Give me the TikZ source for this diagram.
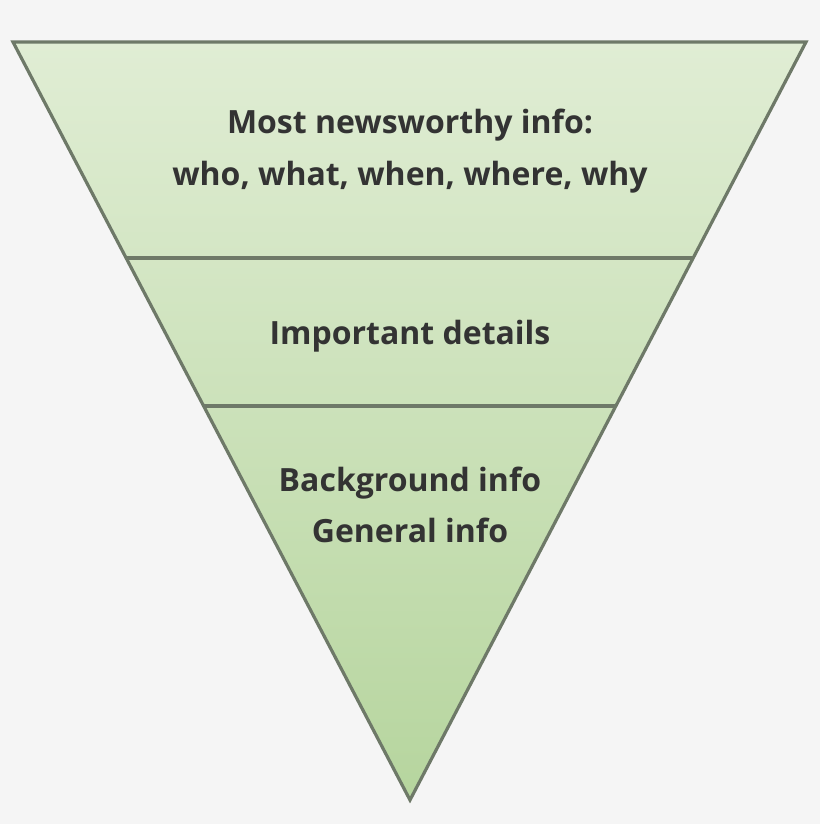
\documentclass[tikz,border=0pt]{standalone}
\usepackage{fontspec}
\setmainfont{Open Sans}
\definecolor{bg}{HTML}{F5F5F5}
\definecolor{edge}{HTML}{6E7968}
\definecolor{topg}{HTML}{E0EDD4}
\definecolor{botg}{HTML}{B6D59E}
\definecolor{txt}{HTML}{333333}
\tikzset{
  lbl/.style={text=txt, font=\fontsize{32}{49}\selectfont\bfseries, align=center, inner sep=0pt, anchor=base},
  edgeline/.style={draw=edge, line width=3.2pt, line join=miter}
}
\begin{document}
\begin{tikzpicture}[x=1pt,y=-1pt]
\fill[bg] (0,0) rectangle (820,824);
\useasboundingbox (0,0) rectangle (820,824);
\coordinate (tl) at (13,42);
\coordinate (tr) at (806,42);
\coordinate (ap) at (410,800);
\coordinate (a1) at (126,258);
\coordinate (b1) at (693,258);
\coordinate (a2) at (204,406);
\coordinate (b2) at (616,406);
\shade[top color=topg, bottom color=botg] (tl) -- (tr) -- (ap) -- cycle;
\draw[edgeline] (a1) -- (b1);
\draw[edgeline] (a2) -- (b2);
\draw[edgeline] (tl) -- (tr) -- (ap) -- cycle;
\node[lbl] (t1) at (410,134) {Most newsworthy info:};
\node[lbl] (t2) at (410,185) {who, what, when, where, why};
\node[lbl] (t3) at (410,344) {Important details};
\node[lbl] (t4) at (410,491) {Background info};
\node[lbl] (t5) at (410,542) {General info};
\end{tikzpicture}
\end{document}
